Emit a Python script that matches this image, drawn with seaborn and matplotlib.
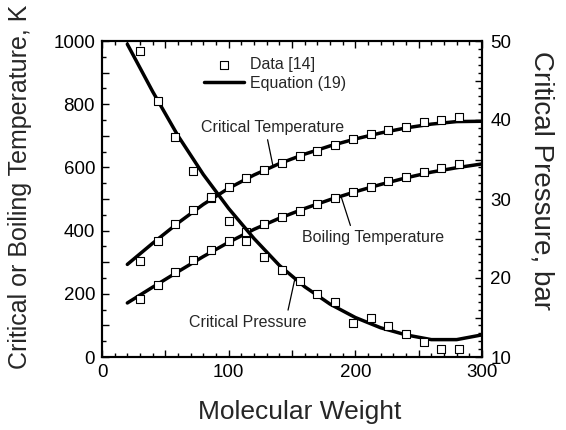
import matplotlib
matplotlib.use("Agg")
import matplotlib.pyplot as plt
from matplotlib.ticker import MultipleLocator, FuncFormatter
import seaborn as sns
import pandas as pd

# n-alkane data (molecular weight, critical temperature, boiling temperature, critical pressure)
mw_data = [30, 44, 58, 72, 86, 100, 114, 128, 142, 156, 170, 184, 198, 212, 226, 240, 254, 268, 282]
tc_data = [305, 367, 422, 465, 502, 537, 565, 592, 614, 636, 653, 671, 689, 705, 717, 729, 743, 750, 760]
tb_data = [183, 228, 268, 306, 339, 368, 395, 420, 442, 462, 483, 504, 522, 539, 556, 570, 585, 598, 612]
pc_data = [48.7, 42.4, 37.8, 33.5, 30.2, 27.2, 24.7, 22.7, 21.0, 19.6, 18.0, 17.0, 14.3, 15.0, 13.9,
           12.9, 11.9, 11.0, 11.0]

# Correlation curves, Equation (19)
mw_eq = [20, 40, 60, 80, 100, 120, 140, 160, 180, 200, 220, 240, 260, 280, 300]
tc_eq = [293, 360, 424, 483, 534, 576, 612, 642, 668, 690, 709, 725, 737, 745, 746]
tb_eq = [171, 221, 270, 318, 363, 404, 439, 470, 498, 523, 546, 567, 585, 599, 611]
pc_eq = [49.6, 43.6, 38.0, 33.1, 28.8, 25.0, 21.6, 18.9, 16.7, 15.0, 13.7, 12.8, 12.2, 12.2, 12.8]

data = pd.DataFrame({"mw": mw_data, "tc": tc_data, "tb": tb_data, "pc": pc_data})
eq = pd.DataFrame({"mw": mw_eq, "tc": tc_eq, "tb": tb_eq, "pc": pc_eq})

sns.set_theme(style="ticks")
plt.rcParams["font.family"] = ["Liberation Sans", "DejaVu Sans"]

fig = plt.figure(figsize=(5.66, 4.30), dpi=100)
ax = fig.add_axes([102 / 566, 1 - 357 / 430, 380 / 566, 316 / 430])
ax2 = ax.twinx()

line_kw = dict(color="black", linewidth=2.5, estimator=None, sort=False)
mark_kw = dict(marker="s", s=30, color="white", edgecolor="black", linewidth=0.8, zorder=5)

sns.lineplot(data=eq, x="mw", y="tc", ax=ax, label="Equation (19)", **line_kw)
sns.lineplot(data=eq, x="mw", y="tb", ax=ax, **line_kw)
sns.scatterplot(data=data, x="mw", y="tc", ax=ax, label="Data [14]", **mark_kw)
sns.scatterplot(data=data, x="mw", y="tb", ax=ax, **mark_kw)

sns.lineplot(data=eq, x="mw", y="pc", ax=ax2, **line_kw)
sns.scatterplot(data=data, x="mw", y="pc", ax=ax2, **mark_kw)

ax.set_xlim(0, 300)
ax.set_ylim(0, 1000)
ax2.set_ylim(10, 50)

ax.xaxis.set_major_locator(MultipleLocator(50))
ax.xaxis.set_minor_locator(MultipleLocator(10))
ax.xaxis.set_major_formatter(FuncFormatter(lambda v, p: f"{v:.0f}" if v % 100 == 0 else ""))
ax.yaxis.set_major_locator(MultipleLocator(100))
ax.yaxis.set_minor_locator(MultipleLocator(50))
ax.yaxis.set_major_formatter(FuncFormatter(lambda v, p: f"{v:.0f}" if v % 200 == 0 else ""))
ax2.yaxis.set_major_locator(MultipleLocator(5))
ax2.yaxis.set_minor_locator(MultipleLocator(1))
ax2.yaxis.set_major_formatter(FuncFormatter(lambda v, p: f"{v:.0f}" if v % 10 == 0 else ""))

ax.tick_params(which="both", direction="in", top=True, right=False, labelsize=13.5,
               colors="black", width=1.0)
ax.tick_params(which="major", length=5, pad=5)
ax.tick_params(which="minor", length=2.6)
ax2.tick_params(which="both", direction="in", right=True, labelsize=13.5, colors="black", width=1.0)
ax2.tick_params(which="major", length=5, pad=6)
ax2.tick_params(which="minor", length=2.6)

for a in (ax, ax2):
    for sp in a.spines.values():
        sp.set_linewidth(1.5)
        sp.set_color("black")
        sp.set_visible(True)

ax.set_xlabel("Molecular Weight", fontsize=19)
ax.set_ylabel("Critical or Boiling Temperature, K", fontsize=18)
ax2.set_ylabel("Critical Pressure, bar", fontsize=20, rotation=270, labelpad=22)
ax.xaxis.set_label_coords(0.52, -0.135)
ax.yaxis.set_label_coords(-0.185, 0.54)
ax2.yaxis.set_label_coords(1.19, 0.56)

handles, labels = ax.get_legend_handles_labels()
order = [labels.index("Data [14]"), labels.index("Equation (19)")]
ax.legend([handles[i] for i in order], [labels[i] for i in order],
          loc="upper left", bbox_to_anchor=(204 / 566, 1 - 57 / 430), bbox_transform=fig.transFigure,
          frameon=False, fontsize=11.5, handlelength=2.5, handletextpad=0.35,
          labelspacing=0.25, borderpad=0, borderaxespad=0)

arrow = dict(arrowstyle="-", color="black", lw=0.9, shrinkA=1, shrinkB=0)
ax.annotate("Critical Temperature", xy=(135, 604), xytext=(78, 726), fontsize=11.5,
            ha="left", va="center", arrowprops=dict(relpos=(0.46, 0.0), **arrow))
ax.annotate("Boiling Temperature", xy=(189, 505), xytext=(158, 378), fontsize=11.5,
            ha="left", va="center", arrowprops=dict(relpos=(0.35, 1.0), **arrow))
ax2.annotate("Critical Pressure", xy=(152, 19.7), xytext=(69, 14.4), fontsize=11.5,
             ha="left", va="center", arrowprops=dict(relpos=(0.83, 1.0), **arrow))

fig.savefig("out.png", dpi=100, facecolor="white")
